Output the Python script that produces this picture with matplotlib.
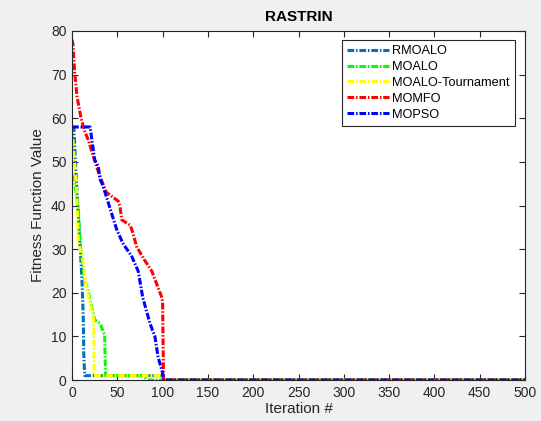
import matplotlib
matplotlib.use("Agg")
import matplotlib.pyplot as plt

plt.rcParams['font.family'] = ['Liberation Sans', 'DejaVu Sans']

# Series breakpoints (iteration, fitness)
rmoalo_x = [0, 2, 5, 9, 11, 12.5, 13, 14, 100, 101, 500]
rmoalo_y = [58, 58, 45, 30.5, 23, 13.8, 6, 1, 1, 0, 0]

moalo_x = [0, 3, 7, 9, 14, 17, 25, 31, 35, 36, 37, 78, 84, 500]
moalo_y = [47, 45, 39, 31, 23, 21, 13.8, 13, 10.8, 10.5, 1, 1, 0, 0]

tour_x = [0, 1, 5, 7, 12, 16, 22, 24, 24.5, 100, 101, 500]
tour_y = [55, 55, 44, 31.4, 27.5, 21, 16, 13.8, 1, 1, 0, 0]

momfo_x = [0, 1, 3, 5.5, 10, 14, 18, 23, 27, 31, 38, 51, 53, 55, 64, 66, 71.5,
           80, 88, 93.5, 99, 100, 101, 500]
momfo_y = [78, 77, 70.4, 65, 60, 57, 55, 51.6, 49, 46.6, 43, 41, 39.7, 36.7,
           35.5, 34.5, 30.5, 27.5, 25, 22, 19, 18, 0, 0]

mopso_x = [0, 20, 25, 29, 31, 34, 38, 44, 49.5, 56, 66, 73, 78, 86, 91.5, 95,
           100, 101, 500]
mopso_y = [58, 58, 50.5, 49, 46, 44.6, 42, 38, 34.4, 31.4, 28.3, 25, 19, 13,
           10, 5.3, 1.6, 0, 0]

labels = ['RMOALO', 'MOALO', 'MOALO-Tournament', 'MOMFO', 'MOPSO']
colors = ['#0072BD', '#00FF00', '#FFFF00', '#FF0000', '#0000FF']
xs = [rmoalo_x, moalo_x, tour_x, momfo_x, mopso_x]
ys = [rmoalo_y, moalo_y, tour_y, momfo_y, mopso_y]

fig = plt.figure(figsize=(5.41, 4.21), dpi=100)
fig.patch.set_facecolor('#F0F0F0')
ax = fig.add_axes([72/541, 1-380/421, (525-72)/541, (380-31)/421])
ax.set_facecolor('white')

for x, y, c, lab in zip(xs, ys, colors, labels):
    ax.plot(x, y, linestyle=(0, (2.2, 0.6, 0.5, 0.6)), color=c, linewidth=2.2,
            label=lab)

ax.set_xlim(0, 500)
ax.set_ylim(0, 80)
ax.set_xticks(range(0, 501, 50))
ax.set_yticks(range(0, 81, 10))
ax.tick_params(direction='in', length=4, labelsize=10, colors='#262626',
               top=True, right=True, pad=4)
for s in ax.spines.values():
    s.set_color('#262626')
    s.set_linewidth(0.8)
ax.set_xlabel('Iteration #', fontsize=11, color='#262626', labelpad=2)
ax.set_ylabel('Fitness Function Value', fontsize=11, color='#262626', labelpad=4)
ax.set_title('RASTRIN', fontsize=11, fontweight='bold', color='black', pad=7)

leg = ax.legend(loc='upper right', bbox_to_anchor=(0.978, 0.974),
                borderaxespad=0, fontsize=9.2,
                frameon=True, fancybox=False, edgecolor='#262626',
                handlelength=3.3, labelspacing=0.3, borderpad=0.4,
                handletextpad=0.25, framealpha=1)
leg.get_frame().set_linewidth(0.8)

fig.savefig('out.png', dpi=100, facecolor=fig.get_facecolor())
